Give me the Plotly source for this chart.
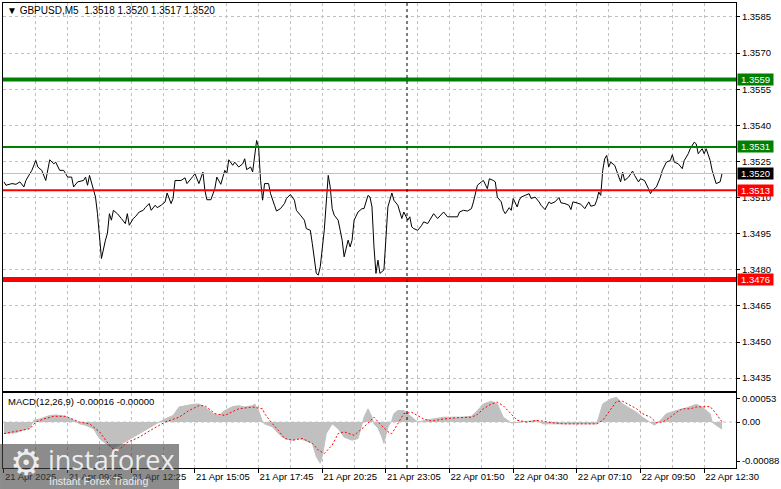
import plotly.graph_objects as go

# ---------------- data ----------------
symbol_title = "\u25BC GBPUSD,M5  1.3518 1.3520 1.3517 1.3520"
macd_title = "MACD(12,26,9) -0.00016 -0.00000"

price_bar = [0, 1, 4, 6, 8, 10, 11, 14, 16, 17, 19, 21, 23, 25, 26, 28, 30, 32, 34, 35, 37, 40, 41, 42, 43, 44,
             46, 47, 48, 49, 51, 52, 53, 54, 55, 57, 59, 61, 62, 63, 65, 66, 68, 70, 71, 73, 74, 76, 77, 79, 81, 82,
             84, 85, 86, 89, 91, 92, 95, 96, 98, 100, 101, 102, 104, 106, 107, 109, 111, 112, 113, 115, 116, 118,
             120, 121, 122, 124, 125, 126, 127, 128, 129, 130, 131, 133, 134, 136, 137, 139, 141, 142, 144, 146,
             147, 149, 151, 152, 154, 155, 156, 157, 158, 159, 161, 162, 163, 164, 165, 166, 168, 170, 171, 173,
             174, 175, 176, 178, 180, 181, 183, 184, 185, 186, 187, 188, 189, 191, 192, 193, 195, 196, 198, 199,
             200, 201, 203, 204, 205, 206, 208, 210, 211, 213, 215, 216, 218, 220, 221, 223, 228, 229, 231, 233,
             235, 236, 238, 240, 241, 243, 244, 246, 247, 248, 250, 251, 252, 254, 255, 256, 258, 259, 260, 262,
             264, 265, 267, 269, 270, 272, 274, 275, 277, 279, 280, 282, 284, 285, 286, 288, 290, 292, 294, 295,
             297, 298, 299, 300, 301, 302, 303, 304, 305, 307, 309, 310, 311, 312, 314, 316, 317, 319, 320, 322,
             324, 325, 326, 328, 330, 331, 333, 335, 336, 337, 339, 341, 342, 344, 345, 347, 348, 349, 351, 352,
             353, 355, 356, 358, 360, 361]
price_close = [1.35165, 1.35151, 1.35158, 1.35155, 1.35165, 1.35144, 1.35171, 1.35213, 1.35254, 1.35227, 1.35213,
               1.35171, 1.35257, 1.35240, 1.35247, 1.35213, 1.35213, 1.35185, 1.35185, 1.35144, 1.35165, 1.35171,
               1.35185, 1.35151, 1.35192, 1.35165, 1.35102, 1.35033, 1.34951, 1.34847, 1.34923, 1.34951, 1.35033,
               1.35006, 1.35047, 1.35033, 1.35013, 1.34992, 1.35033, 1.34985, 1.35013, 1.35020, 1.35040, 1.35047,
               1.35058, 1.35075, 1.35047, 1.35068, 1.35058, 1.35068, 1.35082, 1.35119, 1.35075, 1.35096, 1.35171,
               1.35171, 1.35182, 1.35158, 1.35188, 1.35199, 1.35158, 1.35206, 1.35130, 1.35091, 1.35091, 1.35137,
               1.35185, 1.35155, 1.35213, 1.35199, 1.35257, 1.35234, 1.35247, 1.35227, 1.35240, 1.35261, 1.35216,
               1.35227, 1.35206, 1.35282, 1.35337, 1.35309, 1.35171, 1.35089, 1.35158, 1.35158, 1.35116, 1.35068,
               1.35044, 1.35054, 1.35075, 1.35096, 1.35113, 1.35089, 1.35047, 1.35027, 1.35006, 1.34971, 1.34964,
               1.34909, 1.34854, 1.34785, 1.34778, 1.34813, 1.34964, 1.35061, 1.35192, 1.35144, 1.35054, 1.35027,
               1.35006, 1.34923, 1.34854, 1.34923, 1.34895, 1.34923, 1.35006, 1.35040, 1.35054, 1.35054, 1.35109,
               1.35102, 1.35061, 1.34895, 1.34785, 1.34840, 1.34785, 1.34799, 1.34951, 1.35061, 1.35119, 1.35089,
               1.35068, 1.35040, 1.35013, 1.35040, 1.35006, 1.35020, 1.34978, 1.34971, 1.34964, 1.34985, 1.34999,
               1.34992, 1.35020, 1.35033, 1.35013, 1.35031, 1.35040, 1.35020, 1.35020, 1.35040, 1.35047, 1.35044,
               1.35054, 1.35082, 1.35151, 1.35165, 1.35171, 1.35137, 1.35178, 1.35171, 1.35165, 1.35102, 1.35082,
               1.35047, 1.35033, 1.35058, 1.35047, 1.35096, 1.35061, 1.35089, 1.35102, 1.35109, 1.35116, 1.35096,
               1.35102, 1.35082, 1.35068, 1.35050, 1.35082, 1.35075, 1.35082, 1.35100, 1.35078, 1.35075, 1.35068,
               1.35050, 1.35082, 1.35078, 1.35072, 1.35054, 1.35082, 1.35064, 1.35068, 1.35089, 1.35123, 1.35109,
               1.35213, 1.35261, 1.35275, 1.35227, 1.35247, 1.35234, 1.35192, 1.35165, 1.35206, 1.35171, 1.35185,
               1.35210, 1.35192, 1.35165, 1.35178, 1.35171, 1.35137, 1.35116, 1.35130, 1.35144, 1.35185, 1.35213,
               1.35247, 1.35254, 1.35278, 1.35247, 1.35240, 1.35220, 1.35254, 1.35282, 1.35303, 1.35330, 1.35323,
               1.35282, 1.35303, 1.35282, 1.35303, 1.35254, 1.35213, 1.35158, 1.35165, 1.35200]

hist_bar = [0, 6, 13, 15, 18, 23, 26, 31, 35, 38, 41, 45, 48, 51, 55, 58, 61, 65, 68, 71, 75, 78, 81, 85, 88, 91,
            95, 98, 101, 105, 108, 111, 115, 118, 121, 125, 126, 128, 130, 131, 135, 138, 141, 145, 148, 151, 155,
            157, 159, 160, 162, 165, 168, 171, 175, 178, 181, 183, 185, 186, 188, 190, 191, 193, 195, 196, 198,
            201, 205, 208, 213, 221, 230, 235, 238, 241, 245, 248, 251, 255, 258, 263, 268, 271, 278, 288, 298,
            301, 305, 308, 311, 315, 318, 321, 325, 327, 330, 333, 338, 343, 348, 351, 355, 356, 358, 361]
hist_value = [-0.00026, -0.00024, -0.00013, 0.00004, 0.00007, 0.00015, 0.00016, 0.00013, 0.00004, -0.00004,
              -0.00007, -0.00015, -0.00037, -0.00048, -0.00060, -0.00052, -0.00045, -0.00034, -0.00026, -0.00019,
              -0.00007, 0.00000, 0.00007, 0.00015, 0.00034, 0.00037, 0.00040, 0.00041, 0.00034, 0.00019, 0.00015,
              0.00026, 0.00035, 0.00037, 0.00034, 0.00037, 0.00041, 0.00026, 0.00000, -0.00004, -0.00011, -0.00026,
              -0.00037, -0.00041, -0.00037, -0.00041, -0.00048, -0.00078, -0.00093, -0.00078, -0.00026, -0.00004,
              -0.00015, -0.00034, -0.00041, -0.00037, 0.00011, 0.00030, 0.00011, -0.00004, -0.00013, -0.00034,
              -0.00048, -0.00011, 0.00004, 0.00019, 0.00026, 0.00026, 0.00011, 0.00000, 0.00005, 0.00011, 0.00011,
              0.00013, 0.00026, 0.00041, 0.00047, 0.00041, 0.00011, -0.00002, -0.00001, 0.00002, 0.00004, -0.00004,
              -0.00004, -0.00004, -0.00004, 0.00041, 0.00052, 0.00056, 0.00041, 0.00030, 0.00022, 0.00011, 0.00000,
              -0.00007, 0.00004, 0.00019, 0.00026, 0.00032, 0.00040, 0.00034, 0.00019, 0.00000, -0.00007, -0.00016]

signal_bar = [0, 13, 16, 20, 25, 31, 38, 43, 48, 53, 56, 58, 61, 68, 75, 81, 88, 93, 98, 101, 106, 111, 118, 125,
              130, 131, 135, 138, 141, 145, 150, 155, 158, 161, 165, 168, 171, 176, 181, 186, 189, 193, 195, 198,
              201, 205, 208, 211, 215, 221, 228, 235, 238, 241, 245, 248, 251, 255, 258, 263, 268, 275, 281, 288,
              298, 301, 305, 308, 311, 315, 318, 321, 325, 328, 331, 335, 338, 341, 345, 348, 351, 355, 358, 361]
signal_value = [-0.00026, -0.00015, 0.00000, 0.00007, 0.00013, 0.00013, 0.00000, -0.00004, -0.00022, -0.00052,
                -0.00067, -0.00063, -0.00048, -0.00034, -0.00015, 0.00000, 0.00011, 0.00026, 0.00037, 0.00037,
                0.00019, 0.00015, 0.00030, 0.00034, 0.00030, 0.00019, -0.00004, -0.00019, -0.00037, -0.00041,
                -0.00037, -0.00048, -0.00063, -0.00071, -0.00052, -0.00026, -0.00022, -0.00030, -0.00011, 0.00011,
                -0.00004, -0.00022, -0.00026, -0.00004, 0.00019, 0.00022, 0.00015, 0.00007, 0.00002, 0.00007,
                0.00010, 0.00011, 0.00017, 0.00030, 0.00041, 0.00045, 0.00037, 0.00019, 0.00004, 0.00000, 0.00004,
                -0.00001, -0.00004, -0.00004, -0.00004, 0.00004, 0.00030, 0.00047, 0.00047, 0.00037, 0.00030,
                0.00019, 0.00011, -0.00001, 0.00000, 0.00011, 0.00022, 0.00030, 0.00030, 0.00034, 0.00035, 0.00035,
                0.00019, 0.00000]

time_tick_bar = [0, 32, 64, 96, 128, 160, 192, 224, 256, 288, 320, 352]
time_tick_text = ["21 Apr 2025", "21 Apr 09:45", "21 Apr 12:25", "21 Apr 15:05", "21 Apr 17:45", "21 Apr 20:25",
                  "21 Apr 23:05", "22 Apr 01:50", "22 Apr 04:30", "22 Apr 07:10", "22 Apr 09:50", "22 Apr 12:30"]
grid_minor_bar = [16, 48, 80, 112, 144, 176, 208, 240, 272, 304, 336]

price_ticks = [1.3585, 1.3570, 1.3555, 1.3540, 1.3525, 1.3510, 1.3495, 1.3480, 1.3465, 1.3450, 1.3435]
price_tick_text = ["1.3585", "1.3570", "1.3555", "1.3540", "1.3525", "1.3510", "1.3495", "1.3480", "1.3465",
                   "1.3450", "1.3435"]
macd_ticks = [0.00053, 0.0, -0.00088]
macd_tick_text = ["0.00053", "0.00", "-0.00088"]

level_values = [1.3559, 1.3531, 1.3513, 1.3476]
level_labels = ["1.3559", "1.3531", "1.3513", "1.3476"]
level_colors = ["#008000", "#008000", "#ff0000", "#ff0000"]
level_widths = [4, 2, 2, 5]
bid_price = 1.3520
bid_label = "1.3520"
separator_bar = 202.6

# ---------------- geometry (pixels) ----------------
W, H = 781, 489
PL, PR, PT, PB = 3, 740, 2, 468
MAIN_BOTTOM, MACD_TOP = 390.5, 392.5
ph = PB - PT
pw = PR - PL


def py(y):
    return (PB - y) / ph


def px(x):
    return (x - PL) / pw


FONT = "Liberation Sans"
GRID = "#c0c0c0"
DASH = "3px,3px"

fig = go.Figure()
fig.add_trace(go.Scatter(x=hist_bar, y=hist_value, mode="lines", fill="tozeroy", fillcolor="#c0c0c0",
                         line=dict(color="#c0c0c0", width=1), xaxis="x2", yaxis="y2", hoverinfo="skip"))
fig.add_trace(go.Scatter(x=signal_bar, y=signal_value, mode="lines",
                         line=dict(color="#ff0000", width=1, dash="2px,2px"), xaxis="x2", yaxis="y2"))
fig.add_trace(go.Scatter(x=price_bar, y=price_close, mode="lines", line=dict(color="black", width=1),
                         xaxis="x", yaxis="y"))

xr = [-0.5, 368]
common_x = dict(range=xr, tickmode="array", tickvals=time_tick_bar, showgrid=True, gridcolor=GRID,
                griddash=DASH, gridwidth=1, showline=True, mirror=True, linecolor="black", linewidth=1,
                zeroline=False,
                minor=dict(tickmode="array", tickvals=grid_minor_bar, showgrid=True, gridcolor=GRID,
                           griddash=DASH, gridwidth=1))

fig.update_layout(
    width=W, height=H, margin=dict(l=PL, r=W - PR, t=PT, b=H - PB),
    paper_bgcolor="white", plot_bgcolor="white", showlegend=False,
    font=dict(family=FONT, size=9, color="black"),
    xaxis=dict(domain=[0, 1], anchor="y", showticklabels=False, ticks="", **common_x),
    yaxis=dict(domain=[py(MAIN_BOTTOM), 1], anchor="x", side="right", range=[1.34298, 1.35908],
               tickmode="array", tickvals=price_ticks, ticktext=price_tick_text, ticks="outside", ticklen=3,
               tickcolor="black", showgrid=True, gridcolor=GRID, griddash=DASH, showline=True, mirror=True,
               linecolor="black", zeroline=False, tickfont=dict(family=FONT, size=9.5)),
    xaxis2=dict(domain=[0, 1], anchor="y2", ticktext=time_tick_text, ticks="outside", ticklen=4,
                tickcolor="black", ticklabelposition="outside right",
                tickfont=dict(family=FONT, size=9.5), **common_x),
    yaxis2=dict(domain=[0, py(MACD_TOP)], anchor="x2", side="right", range=[-0.001037, 0.000664],
                tickmode="array", tickvals=macd_ticks, ticktext=macd_tick_text, ticks="outside", ticklen=3,
                tickcolor="black", showgrid=False, showline=True, mirror=True, linecolor="black",
                zeroline=False, tickfont=dict(family=FONT, size=9.5)),
)

shapes = []
shapes.append(dict(type="line", xref="x2", yref="y2", x0=xr[0], x1=xr[1], y0=0, y1=0,
                   line=dict(color=GRID, width=1, dash=DASH), layer="below"))
shapes.append(dict(type="line", xref="x", yref="y", x0=xr[0], x1=xr[1], y0=bid_price, y1=bid_price,
                   line=dict(color="#c0c0c0", width=1)))
for v, c, w in zip(level_values, level_colors, level_widths):
    shapes.append(dict(type="line", xref="x", yref="y", x0=xr[0], x1=xr[1], y0=v, y1=v,
                       line=dict(color=c, width=w)))
shapes.append(dict(type="line", xref="x", yref="paper", x0=separator_bar, x1=separator_bar, y0=0, y1=1,
                   line=dict(color="black", width=1, dash=DASH)))
shapes.append(dict(type="rect", xref="paper", yref="paper", x0=px(0), x1=px(180), y0=py(489), y1=py(444),
                   fillcolor="rgba(70,70,70,0.62)", line=dict(width=0), layer="above"))

annotations = []
for v, lab, c in zip(level_values + [bid_price], level_labels + [bid_label], level_colors + ["#000000"]):
    annotations.append(dict(xref="paper", yref="y", x=1, y=v, xanchor="left", yanchor="middle", xshift=1,
                            text=lab, showarrow=False, bgcolor=c, font=dict(color="white", size=9.5, family=FONT),
                            width=35, height=11, align="center", borderpad=0))
annotations.append(dict(xref="paper", yref="paper", x=px(5), y=py(10), xanchor="left", yanchor="middle",
                        text=symbol_title, showarrow=False, font=dict(size=10, family=FONT)))
annotations.append(dict(xref="paper", yref="paper", x=px(6), y=py(401), xanchor="left", yanchor="middle",
                        text=macd_title, showarrow=False, font=dict(size=9.5, family=FONT)))
annotations.append(dict(xref="paper", yref="paper", x=px(26), y=py(462), xanchor="center", yanchor="middle",
                        text="\u2699", showarrow=False,
                        font=dict(size=36, family="DejaVu Sans", color="rgba(255,255,255,0.85)")))
annotations.append(dict(xref="paper", yref="paper", x=px(46), y=py(459), xanchor="left", yanchor="middle",
                        text="instaforex", showarrow=False,
                        font=dict(size=27, family="Open Sans", color="rgba(255,255,255,0.85)")))
annotations.append(dict(xref="paper", yref="paper", x=px(47), y=py(481), xanchor="left", yanchor="middle",
                        text="Instant Forex Trading", showarrow=False,
                        font=dict(size=10.5, family=FONT, color="rgba(255,255,255,0.85)")))

fig.update_layout(shapes=shapes, annotations=annotations)
fig.write_html("out.html", config={"displayModeBar": False},
               post_script="document.body.style.margin='0';document.body.style.overflow='hidden';")
